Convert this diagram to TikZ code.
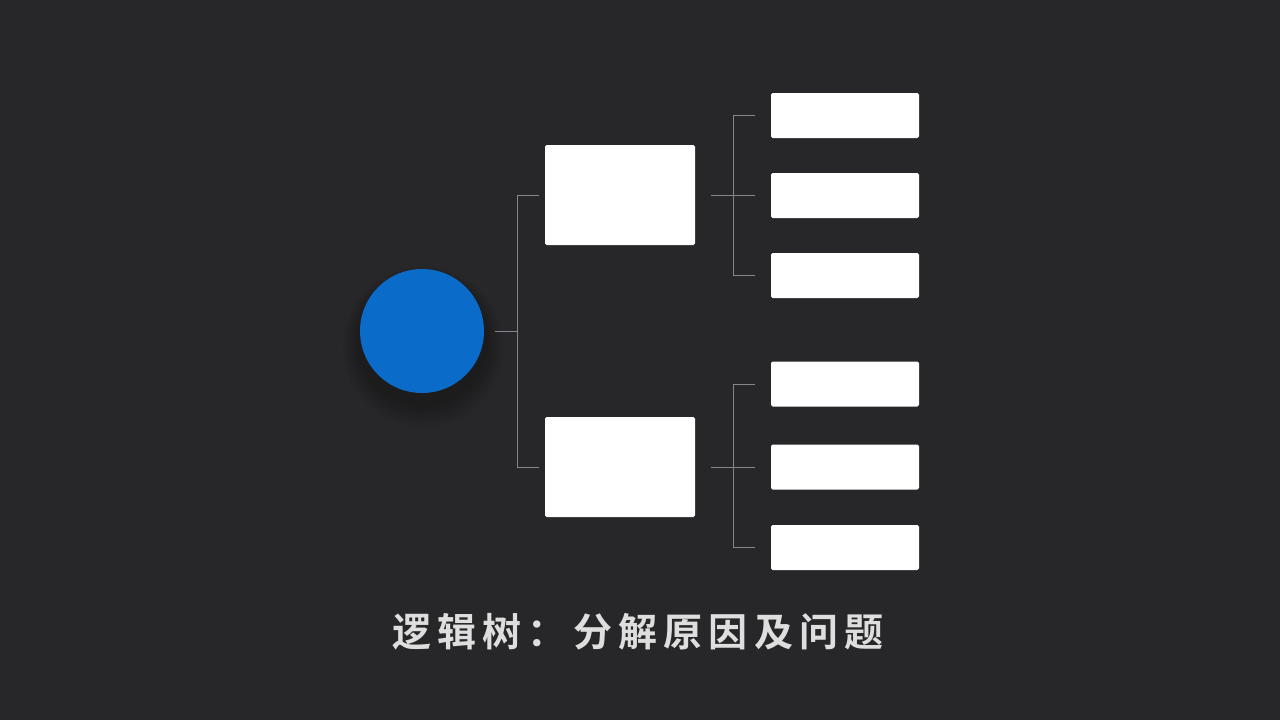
\documentclass[tikz,border=0pt]{standalone}
\usepackage{fontspec}
\newfontfamily\cjk{Noto Sans CJK SC}[BoldFont={Noto Sans CJK SC Bold}, LetterSpace=16]
\usepackage{tikz}
\usetikzlibrary{positioning}
\definecolor{bgdark}{HTML}{272628}
\definecolor{rootblue}{HTML}{0A6BC9}
\definecolor{linkgray}{HTML}{858585}
\definecolor{titlegray}{HTML}{DEDEDE}
\tikzset{
  root/.style={circle, fill=rootblue, minimum size=62pt, inner sep=0pt},
  branch/.style={fill=white, rounded corners=0.8pt, minimum width=75pt, minimum height=50pt, inner sep=0pt},
  leaf/.style={fill=white, rounded corners=0.8pt, minimum width=74pt, minimum height=22.5pt, inner sep=0pt},
  link/.style={draw=linkgray, line width=0.5pt},
}

\begin{document}
\begin{tikzpicture}[x=0.5pt, y=-0.5pt]
	\useasboundingbox[fill=bgdark] (0,0) rectangle (1280,720);
	% Shadow of the root
	\foreach \r/\dy in {80/16, 77/15, 74/14, 71/13, 68/12, 65/10} {
		\fill[black, opacity=0.03] (423,331+\dy) circle[radius=\r];
	}
	% Define nodes
	\node[root]   (r)  at (422,331) {};
	\node[branch] (m1) at (620,195) {};
	\node[branch] (m2) at (620,467) {};
	\node[leaf]   (l1) at (845,115.5) {};
	\node[leaf]   (l2) at (845,195.5) {};
	\node[leaf]   (l3) at (845,275.5) {};
	\node[leaf]   (l4) at (845,384) {};
	\node[leaf]   (l5) at (845,467) {};
	\node[leaf]   (l6) at (845,547.5) {};
	\coordinate (j0) at (517,331);
	\coordinate (j1) at (733,195);
	\coordinate (j2) at (733,467);
	% Connect the nodes
	\draw[link, shorten <=5.5pt] (r) -- (j0);
	\draw[link] (j0 |- m1) -- (j0 |- m2);
	\draw[link, shorten >=3pt] (j0 |- m1) -- (m1);
	\draw[link, shorten >=3pt] (j0 |- m2) -- (m2);
	\foreach \m/\j/\a/\b/\c in {m1/j1/l1/l2/l3, m2/j2/l4/l5/l6} {
		\draw[link, shorten <=8pt, shorten >=8pt] (\m.east) -- (\m.east -| \b.west);
		\draw[link] (\j |- \a) -- (\j |- \c);
		\draw[link, shorten >=8pt] (\j |- \a) -- (\a.west);
		\draw[link, shorten >=8pt] (\j |- \c) -- (\c.west);
	}
	% Title
	\node[text=titlegray, font=\cjk\bfseries\fontsize{19.5pt}{22pt}\selectfont] (title) at (638,632)
		{逻辑树：分解原因及问题};
\end{tikzpicture}
\end{document}
